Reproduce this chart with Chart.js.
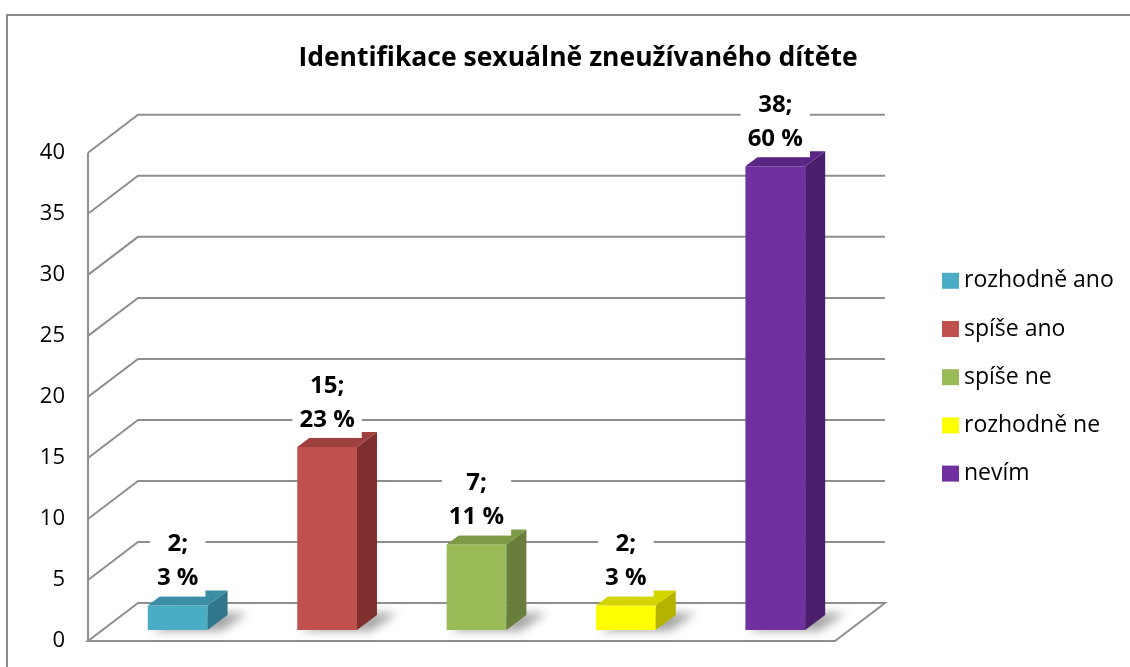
<!DOCTYPE html>
<html>
<head>
<meta charset="utf-8">
<script src="https://cdn.jsdelivr.net/npm/chart.js@4.4.1/dist/chart.umd.min.js"></script>
<style>
  body { margin: 0; background: #fff; }
  canvas { display: block; }
</style>
</head>
<body>
<canvas id="chart" width="1130" height="667"></canvas>
<script>
const categories = ['rozhodně ano', 'spíše ano', 'spíše ne', 'rozhodně ne', 'nevím'];
const counts = [2, 15, 7, 2, 38];
const percents = [3, 23, 11, 3, 60];
const yTicks = [0, 5, 10, 15, 20, 25, 30, 35, 40];

const frontColors = ['#4BACC6', '#C0504D', '#9BBB59', '#FFFF00', '#7030A0'];
const topColors = ['#3C8EA4', '#9E403E', '#7F9A47', '#D4D400', '#5A2684'];
const sideColors = ['#31788C', '#7F302E', '#687E3A', '#B3B300', '#4A1E6A'];

// 3D offsets relative to the plane the bars stand in
const FRONT = { dx: -15, dy: 11 };
const BACK = { dx: 35, dy: -27 };
const BAR_DEPTH = { dx: 20, dy: -15 };
const gridColor = '#8E8E8E';

const depthPlugin = {
    id: 'depth',
    beforeDatasetsDraw(chart) {
        const { ctx, chartArea: a, scales: { y } } = chart;
        ctx.save();
        ctx.lineWidth = 2;

        // outer frame of the chart object
        ctx.strokeStyle = '#8A8A8A';
        ctx.strokeRect(7, 15, 1140, 700);

        // floor
        const base = y.getPixelForValue(0);
        ctx.beginPath();
        ctx.moveTo(a.left + FRONT.dx, base + FRONT.dy);
        ctx.lineTo(a.right + FRONT.dx, base + FRONT.dy);
        ctx.lineTo(a.right + BACK.dx, base + BACK.dy);
        ctx.lineTo(a.left + BACK.dx, base + BACK.dy);
        ctx.closePath();
        ctx.fillStyle = '#fff';
        ctx.fill();
        ctx.strokeStyle = gridColor;
        ctx.stroke();

        // side wall diagonals + back wall gridlines
        yTicks.forEach(v => {
            if (v === 0) return;
            const py = y.getPixelForValue(v);
            ctx.beginPath();
            ctx.moveTo(a.left + FRONT.dx, py + FRONT.dy);
            ctx.lineTo(a.left + BACK.dx, py + BACK.dy);
            ctx.lineTo(a.right + BACK.dx, py + BACK.dy);
            ctx.stroke();
        });

        // front vertical axis
        ctx.beginPath();
        ctx.moveTo(a.left + FRONT.dx, y.getPixelForValue(yTicks[yTicks.length - 1]) + FRONT.dy);
        ctx.lineTo(a.left + FRONT.dx, base + FRONT.dy);
        ctx.stroke();

        // soft shadows under the bars
        ctx.filter = 'blur(5px)';
        ctx.fillStyle = 'rgba(0,0,0,0.35)';
        chart.getDatasetMeta(0).data.forEach(bar => {
            const x0 = bar.x - bar.width / 2, x1 = bar.x + bar.width / 2;
            ctx.beginPath();
            ctx.moveTo(x0 + 4, bar.base + 1);
            ctx.lineTo(x1 + 14, bar.base + 1);
            ctx.lineTo(x1 + 40, bar.base - 17);
            ctx.lineTo(x0 + 30, bar.base - 17);
            ctx.closePath();
            ctx.fill();
        });
        ctx.restore();
    },
    afterDatasetsDraw(chart) {
        const { ctx, chartArea: a } = chart;
        const bars = chart.getDatasetMeta(0).data;
        ctx.save();

        // side and top faces
        bars.forEach((bar, i) => {
            const x0 = bar.x - bar.width / 2, x1 = bar.x + bar.width / 2;
            const top = bar.y, base = bar.base;
            ctx.fillStyle = sideColors[i];
            ctx.beginPath();
            ctx.moveTo(x1, top);
            ctx.lineTo(x1 + BAR_DEPTH.dx, top + BAR_DEPTH.dy);
            ctx.lineTo(x1 + BAR_DEPTH.dx, base + BAR_DEPTH.dy);
            ctx.lineTo(x1, base);
            ctx.closePath();
            ctx.fill();
            ctx.fillStyle = topColors[i];
            ctx.beginPath();
            ctx.moveTo(x0, top);
            ctx.lineTo(x0 + BAR_DEPTH.dx, top + BAR_DEPTH.dy);
            ctx.lineTo(x1 + BAR_DEPTH.dx, top + BAR_DEPTH.dy);
            ctx.lineTo(x1, top);
            ctx.closePath();
            ctx.fill();
        });

        // data labels with white background
        ctx.font = 'bold 24px "Open Sans"';
        ctx.textAlign = 'center';
        ctx.textBaseline = 'middle';
        bars.forEach((bar, i) => {
            const lines = [counts[i] + ';', percents[i] + ' %'];
            const w = Math.max(...lines.map(t => ctx.measureText(t).width)) + 14;
            ctx.fillStyle = '#fff';
            ctx.fillRect(bar.x - w / 2, bar.y - 78, w, 69);
            ctx.fillStyle = '#000';
            ctx.fillText(lines[0], bar.x, bar.y - 61);
            ctx.fillText(lines[1], bar.x, bar.y - 27);
        });

        // legend
        ctx.font = '23px "Open Sans"';
        ctx.textAlign = 'left';
        const lx = a.right + 92;
        categories.forEach((c, i) => {
            const ly = a.top + 139 + i * 48.2;
            ctx.fillStyle = frontColors[i];
            ctx.fillRect(lx, ly - 8, 17, 16);
            ctx.fillStyle = '#000';
            ctx.fillText(c, lx + 22, ly);
        });
        ctx.restore();
    }
};

new Chart(document.getElementById('chart'), {
    type: 'bar',
    data: {
        labels: categories,
        datasets: [{
            data: counts,
            backgroundColor: frontColors,
            borderWidth: 0,
            barPercentage: 0.4,
            categoryPercentage: 1.0
        }]
    },
    options: {
        responsive: false,
        animation: false,
        layout: { padding: { left: 26, right: 0, top: 0, bottom: 37 } },
        plugins: {
            legend: { display: false },
            tooltip: { enabled: false },
            title: {
                display: true,
                text: 'Identifikace sexuálně zneužívaného dítěte',
                color: '#000',
                font: { family: 'Open Sans', size: 26.5, weight: 'bold' },
                padding: { top: 43, bottom: 67 }
            }
        },
        scales: {
            x: { display: false },
            y: {
                min: 0,
                max: 40,
                afterBuildTicks: s => { s.ticks = yTicks.map(v => ({ value: v })); },
                afterFit: s => {
                    s.width = 77;
                    s.paddingTop = 0;
                    s.paddingBottom = 0;
                },
                grid: { display: false, drawTicks: false },
                border: { display: false },
                ticks: {
                    color: '#000',
                    padding: 38,
                    labelOffset: 11,
                    font: { family: 'Open Sans', size: 22 }
                }
            },
            spacer: {
                type: 'linear',
                position: 'right',
                afterFit: s => { s.width = 280; },
                grid: { display: false, drawTicks: false },
                border: { display: false },
                ticks: { display: false }
            }
        }
    },
    plugins: [depthPlugin]
});
</script>
</body>
</html>
